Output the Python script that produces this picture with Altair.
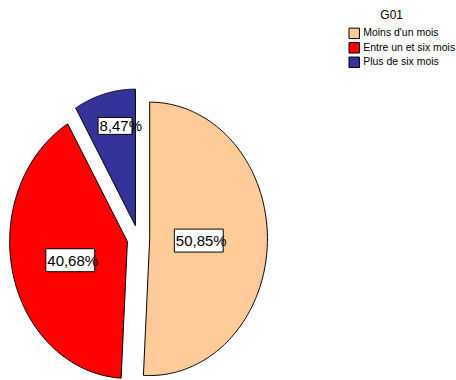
import altair as alt
import pandas as pd

# ---- data ----
categories = ["Moins d'un mois", "Entre un et six mois", "Plus de six mois"]
percentages = [50.85, 40.68, 8.47]
slice_colors = ["#FFCC99", "#FF0000", "#333399"]
legend_title = "G01"

# ---- geometry / style ----
W, H = 456, 380
CX, CY = 138.7, 238.6      # pie centre (px)
RX, RY = 118.0, 137.0      # horizontal / vertical radius (px)
EXPLODE = 0.096            # explode distance (in radius units)
N = 180                    # arc resolution
LABEL_Y = 1.15
FONT = "Liberation Sans"

df = pd.DataFrame({
    "categorie": categories,
    "pct": percentages,
    "rang": list(range(len(categories))),
})

xs = alt.Scale(domain=[-CX / RX, (W - CX) / RX], nice=False, zero=False)
ys = alt.Scale(domain=[-(H - CY) / RY, CY / RY], nice=False, zero=False)

base = (
    alt.Chart(df)
    .transform_window(cum="sum(pct)", sort=[alt.SortField("rang")], frame=[None, 0])
    .transform_joinaggregate(total="sum(pct)")
    .transform_calculate(a0="2*PI*(datum.cum - datum.pct)/datum.total")
    .transform_calculate(a1="2*PI*datum.cum/datum.total")
    .transform_calculate(mid="(datum.a0 + datum.a1)/2")
    .transform_calculate(ox=f"{EXPLODE}*sin(datum.mid)")
    .transform_calculate(oy=f"{EXPLODE}*cos(datum.mid)")
)

wedges = (
    base
    .transform_calculate(steps=f"sequence(0, {N + 3})")
    .transform_flatten(["steps"], as_=["step"])
    .transform_calculate(arc=f"datum.step >= 1 && datum.step <= {N + 1}")
    .transform_calculate(ang=f"datum.a0 + (datum.a1 - datum.a0)*(datum.step - 1)/{N}")
    .transform_calculate(px="datum.ox + (datum.arc ? sin(datum.ang) : 0)")
    .transform_calculate(py="datum.oy + (datum.arc ? cos(datum.ang) : 0)")
    .mark_line(stroke="black", strokeWidth=1, interpolate="linear")
    .encode(
        x=alt.X("px:Q", scale=xs, axis=None),
        y=alt.Y("py:Q", scale=ys, axis=None),
        order=alt.Order("step:Q"),
        detail="categorie:N",
        fill=alt.Fill(
            "categorie:N",
            sort=categories,
            scale=alt.Scale(domain=categories, range=slice_colors),
            legend=alt.Legend(
                title=None,
                orient="none",
                legendX=349,
                legendY=27,
                symbolType="square",
                symbolSize=110,
                symbolStrokeColor="black",
                symbolStrokeWidth=1,
                symbolOpacity=1,
                labelFont=FONT,
                labelFontSize=10.5,
                labelColor="black",
                labelOffset=3,
                rowPadding=-1.5,
                padding=0,
            ),
        ),
    )
)

legend_head = (
    alt.Chart(pd.DataFrame({"t": [legend_title]}))
    .mark_text(font=FONT, fontSize=12, color="black", align="center", baseline="alphabetic")
    .encode(x=alt.value(392.5), y=alt.value(18.3), text="t:N")
)

labels = (
    base
    .transform_calculate(half="(datum.a1 - datum.a0)/2")
    .transform_calculate(cen="2/3*sin(datum.half)/datum.half")
    .transform_calculate(lx="datum.ox + datum.cen*sin(datum.mid)")
    .transform_calculate(ly=f"datum.oy + {LABEL_Y}*datum.cen*cos(datum.mid)")
    .transform_calculate(txt="replace(format(datum.pct, '.2f'), '.', ',') + '%'")
    .transform_calculate(bw="15*length(datum.txt) - 41")
    .transform_calculate(bh="6*length(datum.txt) - 13")
    .transform_calculate(x0=f"datum.lx - datum.bw/2/{RX}")
    .transform_calculate(x1=f"datum.lx + datum.bw/2/{RX}")
    .transform_calculate(y0=f"datum.ly - datum.bh/2/{RY}")
    .transform_calculate(y1=f"datum.ly + datum.bh/2/{RY}")
    .transform_calculate(tx=f"datum.x0 + 1.5/{RX}")
)

boxes = labels.mark_rect(fill="white", stroke="black", strokeWidth=1).encode(
    x=alt.X("x0:Q", scale=xs, axis=None),
    x2="x1:Q",
    y=alt.Y("y0:Q", scale=ys, axis=None),
    y2="y1:Q",
)

texts = labels.mark_text(
    align="left", baseline="middle", font=FONT, fontSize=15, color="black", dy=0.5
).encode(
    x=alt.X("tx:Q", scale=xs, axis=None),
    y=alt.Y("ly:Q", scale=ys, axis=None),
    text="txt:N",
)

chart = (
    alt.layer(wedges, boxes, texts, legend_head)
    .properties(width=W, height=H, padding=0, background="white")
    .configure_view(stroke="transparent")
)

chart.save("out.html", embed_options={"renderer": "svg", "actions": False})
